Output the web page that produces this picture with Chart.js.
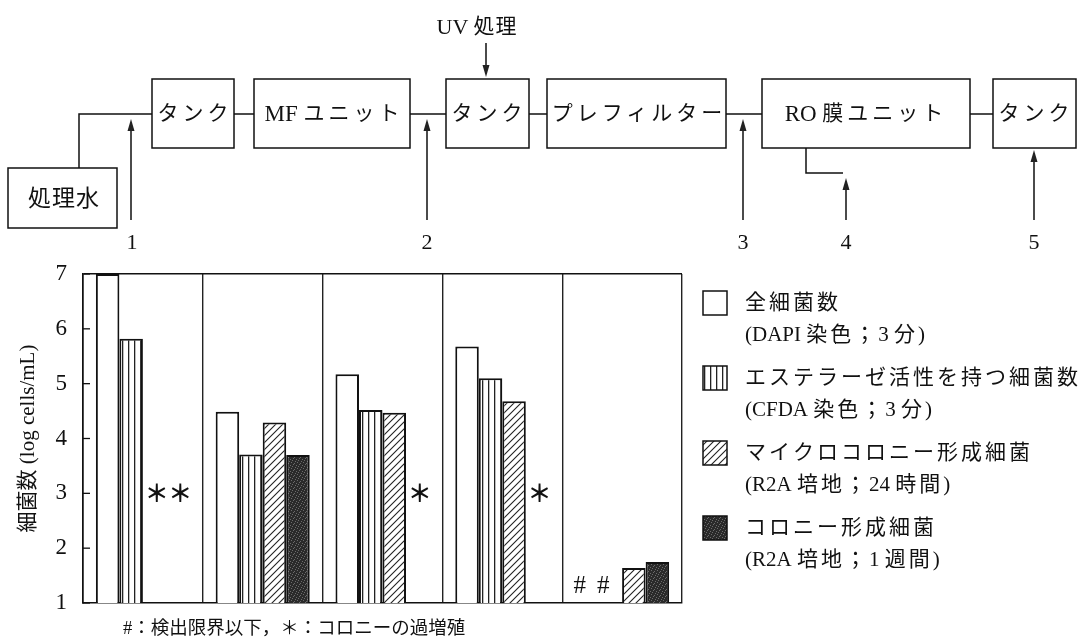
<!DOCTYPE html>
<html lang="ja">
<head>
<meta charset="utf-8">
<title>細菌数の変化</title>
<script src="https://cdn.jsdelivr.net/npm/chart.js@4.4.1/dist/chart.umd.min.js"></script>
<style>
  body { margin: 0; background: #fff; width: 1092px; height: 641px; overflow: hidden; position: relative; }
  #chart { position: absolute; left: 0; top: 0; }
  #flow { position: absolute; left: 0; top: 0; }
  #flow text { font-family: 'Liberation Serif', 'Noto Sans CJK JP', serif; fill: #111; }
  #flow .lat { letter-spacing: 0; }
  #note { position: absolute; left: 123px; top: 617px; font: 18.5px 'Liberation Serif', 'Noto Sans CJK JP', serif; color: #111; line-height: 22px; white-space: nowrap; }
</style>
</head>
<body>
<canvas id="chart" width="1092" height="641"></canvas>

<svg id="flow" width="1092" height="262" xmlns="http://www.w3.org/2000/svg">
  <g fill="none" stroke="#111" stroke-width="1.5">
    <rect x="8" y="168" width="109" height="60"/>
    <rect x="152" y="79" width="82" height="69"/>
    <rect x="254" y="79" width="156" height="69"/>
    <rect x="446" y="79" width="83" height="69"/>
    <rect x="547" y="79" width="179" height="69"/>
    <rect x="762" y="79" width="208" height="69"/>
    <rect x="993" y="79" width="83" height="69"/>
    <path d="M79 168 V114 H152 M234 114 H254 M410 114 H446 M529 114 H547 M726 114 H762 M970 114 H993 M806 148 V173 H843"/>
    <path d="M131 220 V125 M427 220 V125 M743 220 V125 M846 220 V184 M1034 220 V156 M486 43 V71"/>
  </g>
  <g fill="#222">
    <polygon points="131,119 127.5,131 134.5,131"/>
    <polygon points="427,119 423.5,131 430.5,131"/>
    <polygon points="743,119 739.5,131 746.5,131"/>
    <polygon points="846,178 842.5,190 849.5,190"/>
    <polygon points="1034,150 1030.5,162 1037.5,162"/>
    <polygon points="486,77 482.5,65 489.5,65"/>
  </g>
  <g font-size="21" text-anchor="middle" dominant-baseline="central" style="letter-spacing:4px">
    <text x="64" y="198" font-size="23" style="letter-spacing:1px">処理水</text>
    <text x="195" y="113">タンク</text>
    <text x="334" y="113"><tspan class="lat" font-size="23">MF </tspan>ユニット</text>
    <text x="489" y="113">タンク</text>
    <text x="639" y="113">プレフィルター</text>
    <text x="866" y="113"><tspan class="lat" font-size="23">RO </tspan>膜ユニット</text>
    <text x="1036" y="113">タンク</text>
    <text x="477" y="26" style="letter-spacing:1px"><tspan class="lat" font-size="22">UV </tspan>処理</text>
  </g>
  <g font-size="22" text-anchor="middle" dominant-baseline="central">
    <text x="132" y="241">1</text>
    <text x="427" y="241">2</text>
    <text x="743" y="241">3</text>
    <text x="846" y="241">4</text>
    <text x="1034" y="241">5</text>
  </g>
</svg>

<div id="note">#：検出限界以下，＊：コロニーの過増殖</div>

<script>
// sampling points 1-5 along the treatment line
const samplePoints = ["1", "2", "3", "4", "5"];

// log cells/mL
const totalCells = [7.0, 4.49, 5.17, 5.68, null];
const esteraseCells = [5.82, 3.71, 4.52, 5.1, null];
const microColonies = [null, 4.29, 4.47, 4.68, 1.64];
const colonies = [null, 3.7, null, null, 1.75];

// # = below detection limit, ＊ = colony overgrowth
const totalNotes = ["", "", "", "", "#"];
const esteraseNotes = ["", "", "", "", "#"];
const microNotes = ["＊", "", "", "", ""];
const colonyNotes = ["＊", "", "＊", "＊", ""];

const seriesNames = ["全細菌数", "エステラーゼ活性を持つ細菌数", "マイクロコロニー形成細菌", "コロニー形成細菌"];
const seriesMethods = ["(DAPI 染色；3 分)", "(CFDA 染色；3 分)", "(R2A 培地；24 時間)", "(R2A 培地；1 週間)"];

const yMin = 1;
const yMax = 7;

const serif = "'Liberation Serif', 'Noto Sans CJK JP', serif";

function makePattern(size, draw) {
  const c = document.createElement("canvas");
  c.width = size;
  c.height = size;
  const g = c.getContext("2d");
  draw(g, size);
  return c.getContext("2d").createPattern(c, "repeat");
}

const plain = "#ffffff";
const stripes = makePattern(6, (g, s) => {
  g.fillStyle = "#fff";
  g.fillRect(0, 0, s, s);
  g.fillStyle = "#222";
  g.fillRect(2, 0, 1.3, s);
});
const hatch = makePattern(7, (g, s) => {
  g.fillStyle = "#fff";
  g.fillRect(0, 0, s, s);
  g.strokeStyle = "#222";
  g.lineWidth = 1.1;
  g.beginPath();
  g.moveTo(-1, s + 1);
  g.lineTo(s + 1, -1);
  g.moveTo(-1, 1);
  g.lineTo(1, -1);
  g.moveTo(s - 1, s + 1);
  g.lineTo(s + 1, s - 1);
  g.stroke();
});
// fixed stipple for the dark bars
const stipple = makePattern(6, (g, s) => {
  g.fillStyle = "#2a2a2a";
  g.fillRect(0, 0, s, s);
  g.fillStyle = "#6b6b6b";
  [[0, 1], [3, 0], [5, 2], [2, 3], [4, 4], [1, 5]].forEach(([x, y]) => g.fillRect(x, y, 1, 1));
});

const fills = [plain, stripes, hatch, stipple];
const values = [totalCells, esteraseCells, microColonies, colonies];
const notes = [totalNotes, esteraseNotes, microNotes, colonyNotes];

// small ticks pointing into the plot
const innerTicks = {
  id: "innerTicks",
  afterDatasetsDraw(chart) {
    const { ctx, chartArea } = chart;
    const y = chart.scales.y;
    ctx.save();
    ctx.strokeStyle = "#111";
    ctx.lineWidth = 1.3;
    y.ticks.forEach((t) => {
      const py = y.getPixelForValue(t.value);
      ctx.beginPath();
      ctx.moveTo(chartArea.left, py);
      ctx.lineTo(chartArea.left + 7, py);
      ctx.stroke();
    });
    ctx.restore();
  },
};

// "#" and "＊" marks in place of missing bars
const barNotes = {
  id: "barNotes",
  afterDatasetsDraw(chart) {
    const { ctx } = chart;
    const y = chart.scales.y;
    ctx.save();
    ctx.fillStyle = "#111";
    ctx.textAlign = "center";
    ctx.textBaseline = "middle";
    chart.data.datasets.forEach((ds, i) => {
      const meta = chart.getDatasetMeta(i);
      ds.notes.forEach((n, j) => {
        if (!n) return;
        const x = meta.data[j].x;
        if (n === "#") {
          ctx.font = "25px " + serif;
          ctx.fillText(n, x - 7, y.getPixelForValue(1.3));
        } else {
          ctx.font = "bold 24px 'Noto Sans CJK JP'";
          ctx.fillText(n, x + 2, y.getPixelForValue(3));
        }
      });
    });
    ctx.restore();
  },
};

// spaced Japanese, unspaced Latin
function drawRuns(ctx, text, x, y) {
  const runs = text.match(/[\x00-\x7F]+|[^\x00-\x7F]+/g) || [];
  runs.forEach((r) => {
    ctx.letterSpacing = /^[\x00-\x7F]+$/.test(r) ? "0px" : "3px";
    ctx.fillText(r, x, y);
    x += ctx.measureText(r).width;
  });
  ctx.letterSpacing = "0px";
}

// legend on the right, two lines per series
const sideLegend = {
  id: "sideLegend",
  afterDraw(chart) {
    const { ctx, chartArea } = chart;
    ctx.save();
    ctx.font = "21px " + serif;
    ctx.textBaseline = "middle";
    ctx.textAlign = "left";
    chart.data.datasets.forEach((ds, i) => {
      const top = chartArea.top + 17 + i * 75;
      const bx = chartArea.right + 21;
      ctx.fillStyle = ds.backgroundColor;
      ctx.fillRect(bx, top, 24, 24);
      ctx.strokeStyle = "#111";
      ctx.lineWidth = 1.5;
      ctx.strokeRect(bx, top, 24, 24);
      ctx.fillStyle = "#111";
      drawRuns(ctx, ds.label, bx + 42, top + 12);
      drawRuns(ctx, ds.method, bx + 42, top + 44);
    });
    ctx.restore();
  },
};

const config = {
  type: "bar",
  data: {
    labels: samplePoints,
    datasets: values.map((v, i) => ({
      label: seriesNames[i],
      method: seriesMethods[i],
      notes: notes[i],
      data: v,
      backgroundColor: fills[i],
      borderColor: "#111",
      borderWidth: 2,
      categoryPercentage: 0.785,
      barPercentage: 1,
    })),
  },
  options: {
    responsive: false,
    devicePixelRatio: 1,
    animation: false,
    layout: { padding: { left: 16, right: 410, top: 274, bottom: 38 } },
    plugins: {
      legend: { display: false },
      tooltip: { enabled: false },
    },
    scales: {
      x: {
        ticks: { display: false },
        grid: { display: true, offset: true, color: "#222", lineWidth: 1.4, drawTicks: false },
        border: { display: true, color: "#111", width: 1.6 },
      },
      y: {
        min: yMin,
        max: yMax,
        ticks: {
          stepSize: 1,
          padding: 16,
          color: "#111",
          font: { size: 23, family: serif },
        },
        grid: {
          drawTicks: false,
          color: (c) => (c.tick && c.tick.value === yMax ? "#111" : "rgba(0,0,0,0)"),
          lineWidth: 1.5,
        },
        border: { display: true, color: "#111", width: 1.6 },
        title: {
          display: true,
          text: "細菌数 (log cells/mL)",
          color: "#111",
          padding: 0,
          font: { size: 21, family: serif },
        },
        afterFit: (scale) => {
          scale.width = 67;
        },
      },
    },
  },
  plugins: [innerTicks, barNotes, sideLegend],
};

new Chart(document.getElementById("chart"), config);
</script>
</body>
</html>
